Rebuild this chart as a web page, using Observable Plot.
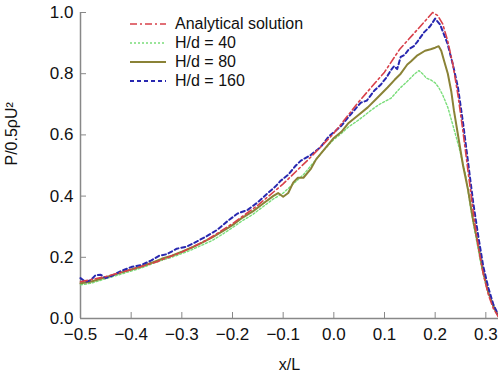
<!DOCTYPE html>
<html>
<head>
<meta charset="utf-8">
<script src="https://cdn.jsdelivr.net/npm/d3@7"></script>
<script src="https://cdn.jsdelivr.net/npm/@observablehq/plot@0.6"></script>
<style>
  html, body { margin: 0; padding: 0; background: #fff; }
  #wrap { position: relative; width: 498px; height: 380px; font-family: "Liberation Sans", Arial, sans-serif; }
  #legend { position: absolute; left: 130px; top: 14px; font-size: 16px; color: #111; }
  #legend .row { display: flex; align-items: center; height: 19px; }
  #legend svg { margin-right: 9px; }
</style>
</head>
<body>
<div id="wrap"><div id="legend"></div></div>
<script>
const seriesNames = ["Analytical solution", "H/d = 40", "H/d = 80", "H/d = 160"];
const seriesColors = ["#d8404a", "#79dd79", "#8a8236", "#2828b0"];
const xTicks = [-0.5, -0.4, -0.3, -0.2, -0.1, 0.0, 0.1, 0.2, 0.3];
const yTicks = [0.0, 0.2, 0.4, 0.6, 0.8, 1.0];

const analyticalX = [-0.5, -0.45, -0.4, -0.35, -0.3, -0.25, -0.2, -0.15, -0.1, -0.05, 0.0, 0.05, 0.1, 0.13, 0.16, 0.18, 0.195, 0.205, 0.215, 0.225, 0.235, 0.245, 0.255, 0.265, 0.275, 0.285, 0.295, 0.305, 0.315, 0.325];
const analyticalY = [0.12, 0.137, 0.16, 0.185, 0.217, 0.257, 0.31, 0.37, 0.44, 0.52, 0.605, 0.71, 0.805, 0.88, 0.935, 0.972, 1.0, 0.99, 0.962, 0.905, 0.83, 0.73, 0.61, 0.48, 0.35, 0.235, 0.145, 0.078, 0.032, 0.005];

const hd40X = [-0.5, -0.48, -0.46, -0.44, -0.42, -0.4, -0.38, -0.36, -0.34, -0.32, -0.3, -0.28, -0.26, -0.24, -0.22, -0.2, -0.18, -0.16, -0.14, -0.12, -0.1, -0.08, -0.06, -0.04, -0.02, 0.0, 0.015, 0.028, 0.05, 0.073, 0.09, 0.113, 0.132, 0.145, 0.16, 0.168, 0.175, 0.183, 0.191, 0.2, 0.207, 0.215, 0.225, 0.237, 0.247, 0.26, 0.27, 0.28, 0.29, 0.3, 0.31, 0.32, 0.325];
const hd40Y = [0.11, 0.115, 0.125, 0.135, 0.145, 0.155, 0.165, 0.178, 0.19, 0.2, 0.212, 0.225, 0.24, 0.255, 0.275, 0.297, 0.32, 0.34, 0.365, 0.39, 0.41, 0.44, 0.47, 0.51, 0.55, 0.585, 0.605, 0.625, 0.65, 0.68, 0.7, 0.72, 0.755, 0.775, 0.8, 0.81, 0.8, 0.785, 0.78, 0.77, 0.755, 0.73, 0.69, 0.62, 0.56, 0.47, 0.36, 0.27, 0.18, 0.11, 0.06, 0.02, 0.008];

const hd80X = [-0.5, -0.48, -0.46, -0.44, -0.42, -0.4, -0.38, -0.36, -0.34, -0.32, -0.3, -0.28, -0.26, -0.24, -0.22, -0.2, -0.18, -0.16, -0.14, -0.12, -0.11, -0.1, -0.09, -0.08, -0.071, -0.06, -0.045, -0.035, -0.02, 0.0, 0.015, 0.028, 0.045, 0.067, 0.085, 0.106, 0.12, 0.132, 0.145, 0.152, 0.165, 0.18, 0.191, 0.2, 0.207, 0.212, 0.218, 0.225, 0.232, 0.237, 0.247, 0.255, 0.265, 0.275, 0.285, 0.295, 0.305, 0.315, 0.325];
const hd80Y = [0.115, 0.12, 0.13, 0.14, 0.15, 0.16, 0.17, 0.182, 0.195, 0.205, 0.218, 0.232, 0.248, 0.265, 0.285, 0.305, 0.33, 0.35, 0.375, 0.4, 0.41, 0.398, 0.41, 0.445, 0.46, 0.46, 0.49, 0.52, 0.55, 0.59, 0.61, 0.637, 0.66, 0.69, 0.72, 0.755, 0.78, 0.8, 0.83, 0.84, 0.86, 0.875, 0.88, 0.885, 0.89, 0.875, 0.84, 0.8, 0.74, 0.68, 0.58, 0.5, 0.42, 0.32, 0.24, 0.15, 0.085, 0.04, 0.008];

const hd160X = [-0.5, -0.49, -0.48, -0.47, -0.46, -0.45, -0.44, -0.42, -0.4, -0.38, -0.36, -0.345, -0.33, -0.31, -0.29, -0.27, -0.25, -0.23, -0.21, -0.19, -0.17, -0.15, -0.13, -0.115, -0.105, -0.09, -0.075, -0.065, -0.045, -0.026, -0.01, 0.004, 0.015, 0.028, 0.04, 0.053, 0.065, 0.08, 0.093, 0.105, 0.112, 0.119, 0.125, 0.132, 0.14, 0.148, 0.158, 0.165, 0.178, 0.19, 0.2, 0.21, 0.224, 0.235, 0.245, 0.255, 0.265, 0.275, 0.285, 0.295, 0.305, 0.315, 0.325];
const hd160Y = [0.132, 0.12, 0.125, 0.142, 0.143, 0.132, 0.138, 0.155, 0.168, 0.175, 0.19, 0.205, 0.21, 0.228, 0.235, 0.252, 0.27, 0.29, 0.318, 0.343, 0.355, 0.38, 0.41, 0.432, 0.45, 0.47, 0.5, 0.516, 0.535, 0.56, 0.595, 0.614, 0.63, 0.657, 0.68, 0.705, 0.712, 0.745, 0.765, 0.79, 0.81, 0.825, 0.815, 0.855, 0.862, 0.88, 0.89, 0.905, 0.935, 0.955, 0.98, 0.96, 0.9, 0.83, 0.755, 0.64, 0.51, 0.38, 0.27, 0.17, 0.1, 0.045, 0.01];

const seriesX = [analyticalX, hd40X, hd80X, hd160X];
const seriesY = [analyticalY, hd40Y, hd80Y, hd160Y];
const dashes = ["7,3,2,3", "2,2", null, "4,3"];
const widths = [1.6, 1.4, 2, 2];

const rows = [];
seriesNames.forEach((name, i) => {
  seriesX[i].forEach((x, j) => rows.push({series: name, x, y: seriesY[i][j]}));
});

const axisColor = "#888";
const drawOrder = [1, 2, 3, 0];
const lineMarks = drawOrder.map(i => Plot.line(rows.filter(d => d.series === seriesNames[i]), {
  x: "x", y: "y", stroke: seriesColors[i], strokeWidth: widths[i],
  strokeDasharray: dashes[i], curve: "linear"
}));

const chart = Plot.plot({
  width: 498,
  height: 380,
  marginLeft: 80,
  marginRight: 0,
  marginTop: 12,
  marginBottom: 62,
  style: {fontFamily: "'Liberation Sans', Arial, sans-serif", fontSize: "17px", color: "#111", background: "#fff"},
  x: {domain: [-0.5, 0.325]},
  y: {domain: [0, 1.0]},
  marks: [
    Plot.ruleX([-0.5], {stroke: axisColor, strokeWidth: 1.5}),
    Plot.ruleY([0], {stroke: axisColor, strokeWidth: 1.5}),
    Plot.axisX(xTicks, {tickSize: -6, tickPadding: 15, stroke: axisColor, fill: "#111", tickFormat: d3.format(".1f"), label: null, fontSize: 17}),
    Plot.axisY(yTicks, {tickSize: -6, tickPadding: 13, stroke: axisColor, fill: "#111", tickFormat: d3.format(".1f"), label: null, fontSize: 17}),
    ...lineMarks,
    Plot.text(["x/L"], {frameAnchor: "bottom", dy: 51, fontSize: 16, fill: "#111"}),
    Plot.text(["P/0.5ρU²"], {frameAnchor: "left", dx: -69, rotate: -90, fontSize: 16, fill: "#111"})
  ]
});
document.getElementById("wrap").prepend(chart);

const legend = document.getElementById("legend");
seriesNames.forEach((name, i) => {
  const row = document.createElement("div");
  row.className = "row";
  row.innerHTML = `<svg width="36" height="6"><line x1="0" x2="36" y1="3" y2="3" stroke="${seriesColors[i]}" stroke-width="${widths[i]}" ${dashes[i] ? `stroke-dasharray="${dashes[i]}"` : ""}/></svg><span>${name}</span>`;
  legend.appendChild(row);
});
</script>
</body>
</html>
